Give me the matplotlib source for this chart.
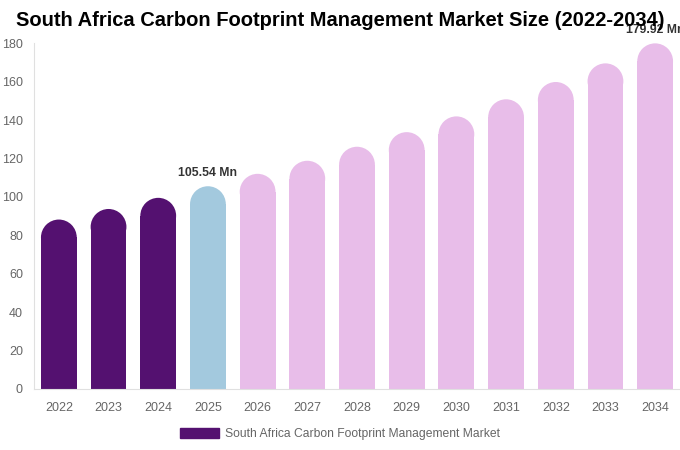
#!/usr/bin/env python3
# coding: utf-8

"""South Africa carbon footprint management market size, 2022-2034"""

import matplotlib
matplotlib.use("Agg")
import matplotlib.pyplot as plt
from matplotlib.patches import Ellipse, Patch

plt.rcParams["font.family"] = ["Liberation Sans", "DejaVu Sans"]

years = ["2022", "2023", "2024", "2025", "2026", "2027", "2028",
         "2029", "2030", "2031", "2032", "2033", "2034"]
values = [88.2, 93.7, 99.5, 105.54, 112.0, 118.8, 126.1,
          133.7, 141.9, 150.8, 159.8, 169.5, 179.92]
labels = {3: "105.54 Mn", 12: "179.92 Mn"}

dark = "#541170"
blue = "#a3c9de"
pink = "#e8bde9"
colors = [dark] * 3 + [blue] + [pink] * 9

fig = plt.figure(figsize=(6.8, 4.5), dpi=100)
ax = fig.add_axes([0.05, 0.1356, 0.95, 0.7684])
ax.set_xlim(-0.5, len(years) - 0.5)
ax.set_ylim(0, 180)

width = 0.72
# radius of the round cap in y data units (so it looks like a half circle)
bbox = ax.get_window_extent()
px_x = bbox.width / (len(years))
px_y = bbox.height / 180
r_y = (width / 2) * px_x / px_y

for i, (v, c) in enumerate(zip(values, colors)):
    ax.bar(i, v - r_y, width, color=c, linewidth=0)
    ax.add_patch(Ellipse((i, v - r_y), width, 2 * r_y, color=c, linewidth=0))
    if i in labels:
        ax.text(i, v + 4, labels[i], ha="center", va="bottom",
                fontsize=8.8, fontweight="bold", color="#333333",
                clip_on=False)

ax.set_xticks(range(len(years)))
ax.set_xticklabels(years)
ax.set_yticks(range(0, 181, 20))
ax.tick_params(axis="both", length=0, labelsize=9, labelcolor="#666666")
ax.tick_params(axis="x", pad=9.5)
ax.tick_params(axis="y", pad=8)
for s in ("top", "right"):
    ax.spines[s].set_visible(False)
for s in ("left", "bottom"):
    ax.spines[s].set_color("#e0e0e0")

fig.suptitle("South Africa Carbon Footprint Management Market Size (2022-2034)",
             x=0.5, y=0.975, fontsize=14.5, fontweight="bold")

fig.legend(handles=[Patch(color=dark)],
           labels=["South Africa Carbon Footprint Management Market"],
           loc="center", bbox_to_anchor=(0.5, 0.035), frameon=False,
           fontsize=8.7, labelcolor="#666666", handlelength=3.3,
           handleheight=0.9, handletextpad=0.5)

fig.savefig("out.png")
